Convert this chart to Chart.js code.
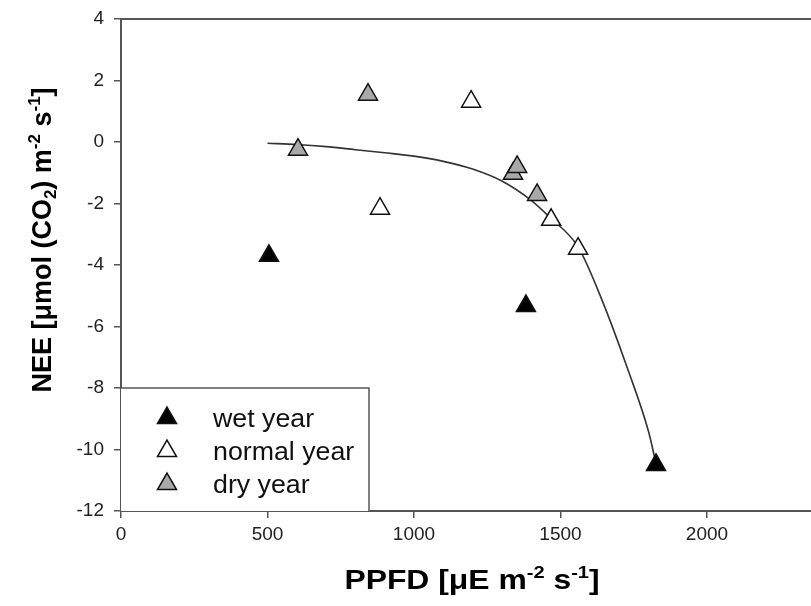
<!DOCTYPE html>
<html>
<head>
<meta charset="utf-8">
<script src="https://cdn.jsdelivr.net/npm/chart.js@4.4.0/dist/chart.umd.min.js"></script>
<style>
html, body { margin: 0; padding: 0; background: #fff; overflow: hidden; }
#wrap { width: 811px; height: 606px; }
</style>
</head>
<body>
<div id="wrap"><canvas id="myChart" width="811" height="606"></canvas></div>
<script>
// tick labels
var xTicks = [0, 500, 1000, 1500, 2000];
var yTicks = [-12, -10, -8, -6, -4, -2, 0, 2, 4];

// measured points (PPFD, NEE)
var wetX = [505, 1382, 1826];
var wetY = [-3.70, -5.33, -10.50];
var normalX = [884, 1195, 1468, 1560];
var normalY = [-2.17, 1.31, -2.53, -3.47];
var dryX = [604, 843, 1338, 1352, 1420];
var dryY = [-0.25, 1.54, -1.03, -0.81, -1.72];

// fitted curve
var fitX = [500, 600, 700, 800, 900, 1000, 1100, 1200, 1300, 1400, 1460, 1560, 1640, 1730, 1800, 1826];
var fitY = [-0.04, -0.08, -0.15, -0.25, -0.35, -0.46, -0.63, -0.88, -1.27, -1.90, -2.42, -3.41, -5.10, -7.40, -9.40, -10.45];

var legendNames = ['wet year', 'normal year', 'dry year'];
var legendFills = ['#000000', '#ffffff', '#a9a9a9'];

var FONT = '"Liberation Sans", Arial, sans-serif';
var AXIS = '#555555';

function toPoints(xs, ys) {
    return xs.map(function (x, i) { return { x: x, y: ys[i] }; });
}

// draw text with sub/superscripts, centred on x (before stretch)
function drawRich(ctx, parts, size, cx, baseY, stretch) {
    var small = Math.round(size * 0.62);
    var total = 0;
    parts.forEach(function (p) {
        ctx.font = 'bold ' + (p.s ? small : size) + 'px ' + FONT;
        p.w = ctx.measureText(p.t).width;
        total += p.w;
    });
    ctx.save();
    ctx.translate(cx, baseY);
    ctx.scale(stretch || 1, 1);
    var x = -total / 2;
    ctx.textAlign = 'left';
    ctx.textBaseline = 'alphabetic';
    parts.forEach(function (p) {
        ctx.font = 'bold ' + (p.s ? small : size) + 'px ' + FONT;
        var dy = 0;
        if (p.s === 1) dy = -size * 0.4;
        if (p.s === -1) dy = size * 0.2;
        ctx.fillText(p.t, x, dy);
        x += p.w;
    });
    ctx.restore();
}

var decor = {
    id: 'decor',
    afterDatasetsDraw: function (chart) {
        var ctx = chart.ctx;
        var area = chart.chartArea;
        var y = chart.scales.y;
        ctx.save();

        // top frame line
        ctx.strokeStyle = AXIS;
        ctx.lineWidth = 2;
        ctx.beginPath();
        ctx.moveTo(area.left, area.top);
        ctx.lineTo(area.right, area.top);
        ctx.stroke();

        // legend box
        var boxTop = y.getPixelForValue(-8);
        ctx.fillStyle = '#fff';
        ctx.fillRect(area.left, boxTop, 248, area.bottom - boxTop);
        ctx.strokeStyle = AXIS;
        ctx.lineWidth = 1.5;
        ctx.beginPath();
        ctx.moveTo(area.left, boxTop);
        ctx.lineTo(area.left + 248, boxTop);
        ctx.lineTo(area.left + 248, area.bottom);
        ctx.stroke();

        legendNames.forEach(function (name, i) {
            var cy = boxTop + 30 + i * 33;
            var r = 11;
            ctx.beginPath();
            ctx.moveTo(area.left + 46, cy - r);
            ctx.lineTo(area.left + 46 + r * Math.sin(2 * Math.PI / 3), cy + r / 2);
            ctx.lineTo(area.left + 46 - r * Math.sin(2 * Math.PI / 3), cy + r / 2);
            ctx.closePath();
            ctx.fillStyle = legendFills[i];
            ctx.fill();
            ctx.strokeStyle = '#111';
            ctx.lineWidth = 1.5;
            ctx.stroke();
            ctx.save();
            ctx.translate(area.left + 92, cy + 9);
            ctx.scale(1.07, 1);
            ctx.fillStyle = '#111';
            ctx.font = '25px ' + FONT;
            ctx.textAlign = 'left';
            ctx.textBaseline = 'alphabetic';
            ctx.fillText(name, 0, 0);
            ctx.restore();
        });

        // axis titles
        ctx.fillStyle = '#000';
        drawRich(ctx, [
            { t: 'PPFD [\u03bcE m' }, { t: '-2', s: 1 }, { t: ' s' }, { t: '-1', s: 1 }, { t: ']' }
        ], 27, 472, 589, 1.18);

        ctx.translate(51, 240);
        ctx.rotate(-Math.PI / 2);
        drawRich(ctx, [
            { t: 'NEE [\u03bcmol (CO' }, { t: '2', s: -1 }, { t: ') m' }, { t: '-2', s: 1 },
            { t: ' s' }, { t: '-1', s: 1 }, { t: ']' }
        ], 27, 0, 0, 1);
        ctx.restore();
    }
};

var canvas = document.getElementById('myChart');
var ctx = canvas.getContext('2d');

var triangle = {
    pointStyle: 'triangle',
    pointRadius: 11,
    pointHoverRadius: 11,
    pointBorderWidth: 1.5,
    pointBorderColor: '#111',
    showLine: false
};

var myChart = new Chart(ctx, {
    type: 'scatter',
    data: {
        datasets: [
            Object.assign({ label: 'wet year', data: toPoints(wetX, wetY), pointBackgroundColor: legendFills[0], order: 1 }, triangle),
            Object.assign({ label: 'normal year', data: toPoints(normalX, normalY), pointBackgroundColor: legendFills[1], order: 1 }, triangle),
            Object.assign({ label: 'dry year', data: toPoints(dryX, dryY), pointBackgroundColor: legendFills[2], order: 1 }, triangle),
            {
                label: 'fit',
                data: toPoints(fitX, fitY),
                showLine: true,
                borderColor: '#333',
                borderWidth: 1.6,
                pointRadius: 0,
                cubicInterpolationMode: 'monotone',
                fill: false,
                order: 2
            }
        ]
    },
    options: {
        responsive: false,
        animation: false,
        layout: { autoPadding: false, padding: { top: 19, right: 0, bottom: 0, left: 0 } },
        plugins: {
            legend: { display: false },
            tooltip: { enabled: false }
        },
        scales: {
            x: {
                type: 'linear',
                min: 0,
                max: 2355,
                afterBuildTicks: function (s) { s.ticks = xTicks.map(function (v) { return { value: v }; }); },
                afterFit: function (s) { s.height = 95; s.paddingLeft = 0; s.paddingRight = 0; },
                grid: { display: true, drawOnChartArea: false, drawTicks: true, tickLength: 7, color: AXIS, lineWidth: 1.5 },
                border: { display: true, color: AXIS, width: 2 },
                ticks: {
                    font: { family: FONT, size: 19 }, color: '#222', padding: 5, maxRotation: 0, autoSkip: false,
                    callback: function (v) { return String(v); }
                }
            },
            y: {
                type: 'linear',
                min: -12,
                max: 4,
                afterBuildTicks: function (s) { s.ticks = yTicks.map(function (v) { return { value: v }; }); },
                afterFit: function (s) { s.width = 121; s.paddingTop = 0; s.paddingBottom = 0; },
                grid: { display: true, drawOnChartArea: false, drawTicks: true, tickLength: 7, color: AXIS, lineWidth: 1.5 },
                border: { display: true, color: AXIS, width: 2 },
                ticks: {
                    font: { family: FONT, size: 19 }, color: '#222', padding: 10, autoSkip: false,
                    callback: function (v) { return String(v); }
                }
            }
        }
    },
    plugins: [decor]
});
</script>
</body>
</html>
